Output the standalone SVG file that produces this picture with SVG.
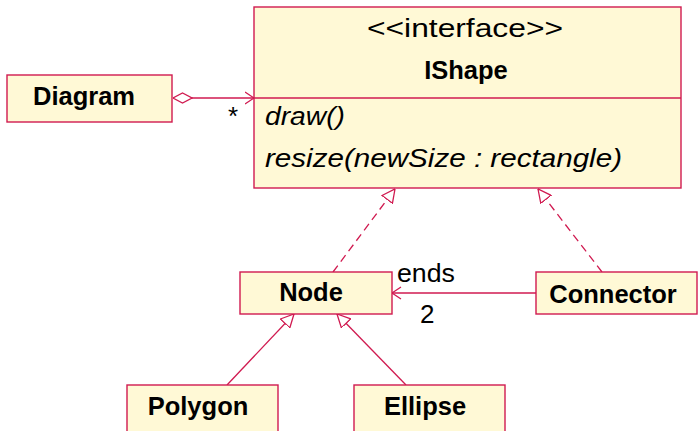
<svg xmlns="http://www.w3.org/2000/svg" width="698" height="431" viewBox="0 0 698 431">
  <style>
    .box { fill: #fff9d6; stroke: #d01a50; stroke-width: 1.4; }
    .edge { fill: none; stroke: #d01a50; stroke-width: 1.3; }
    .dash { stroke-dasharray: 8 5; }
    .name { font-family: "Liberation Sans", Arial, sans-serif; font-weight: bold; font-size: 25.5px; fill: #000; text-anchor: middle; }
    .txt { font-family: "Liberation Sans", Arial, sans-serif; font-size: 26px; fill: #000; }
    .op { font-family: "Liberation Sans", Arial, sans-serif; font-style: italic; font-size: 26px; fill: #000; }
  </style>
  <defs>
    <marker id="hollowTri" viewBox="0 0 14 14" refX="13.5" refY="7" markerWidth="14" markerHeight="14" markerUnits="userSpaceOnUse" orient="auto">
      <path d="M0.5,0.5 L13.5,7 L0.5,13.5 Z" fill="#ffffff" stroke="#d01a50" stroke-width="1.3"/>
    </marker>
    <marker id="openArrow" viewBox="0 0 10 14" refX="9.5" refY="7" markerWidth="10" markerHeight="14" markerUnits="userSpaceOnUse" orient="auto">
      <path d="M0.5,1 L9.5,7 L0.5,13" fill="none" stroke="#d01a50" stroke-width="1.3"/>
    </marker>
    <marker id="hollowDiamond" viewBox="0 0 20 12" refX="0.5" refY="6" markerWidth="20" markerHeight="12" markerUnits="userSpaceOnUse" orient="auto">
      <path d="M0.5,6 L10,1 L19.5,6 L10,11 Z" fill="#ffffff" stroke="#d01a50" stroke-width="1.3"/>
    </marker>
  </defs>

  <g id="connectors">
    <!-- Diagram aggregates IShape -->
    <path class="edge" d="M173,98 L254,98" marker-start="url(#hollowDiamond)" marker-end="url(#openArrow)"/>
    <!-- realizations of IShape -->
    <path class="edge dash" d="M333,272 L395,189" marker-end="url(#hollowTri)"/>
    <path class="edge dash" d="M602,272 L538,189" marker-end="url(#hollowTri)"/>
    <!-- Connector ends -> Node -->
    <path class="edge" d="M536,293 L392,293" marker-end="url(#openArrow)"/>
    <!-- generalizations of Node -->
    <path class="edge" d="M227,385 L294,314" marker-end="url(#hollowTri)"/>
    <path class="edge" d="M406,385 L337,314" marker-end="url(#hollowTri)"/>
  </g>

  <g id="labels">
    <text class="txt" x="228" y="125" font-size="24">*</text>
    <text class="txt" x="397" y="282" textLength="58" lengthAdjust="spacingAndGlyphs">ends</text>
    <text class="txt" x="420" y="323">2</text>
  </g>

  <g id="IShape">
    <rect class="box" x="254" y="7" width="427" height="181"/>
    <line class="edge" x1="254" y1="98" x2="681" y2="98"/>
    <text class="txt" x="367" y="37" textLength="196" lengthAdjust="spacingAndGlyphs">&lt;&lt;interface&gt;&gt;</text>
    <text class="name" x="466" y="79">IShape</text>
    <text class="op" x="265" y="125" textLength="80" lengthAdjust="spacingAndGlyphs">draw()</text>
    <text class="op" x="265" y="167" textLength="357" lengthAdjust="spacingAndGlyphs">resize(newSize :  rectangle)</text>
  </g>

  <g id="Diagram">
    <rect class="box" x="7" y="75" width="165" height="47"/>
    <text class="name" x="84" y="105">Diagram</text>
  </g>

  <g id="Node">
    <rect class="box" x="240" y="272" width="152" height="42"/>
    <text class="name" x="311" y="301">Node</text>
  </g>

  <g id="Connector">
    <rect class="box" x="536" y="272" width="161" height="42"/>
    <text class="name" x="613" y="303">Connector</text>
  </g>

  <g id="Polygon">
    <rect class="box" x="127" y="385" width="151" height="60"/>
    <text class="name" x="198" y="415">Polygon</text>
  </g>

  <g id="Ellipse">
    <rect class="box" x="354" y="385" width="151" height="60"/>
    <text class="name" x="425" y="415">Ellipse</text>
  </g>
</svg>
